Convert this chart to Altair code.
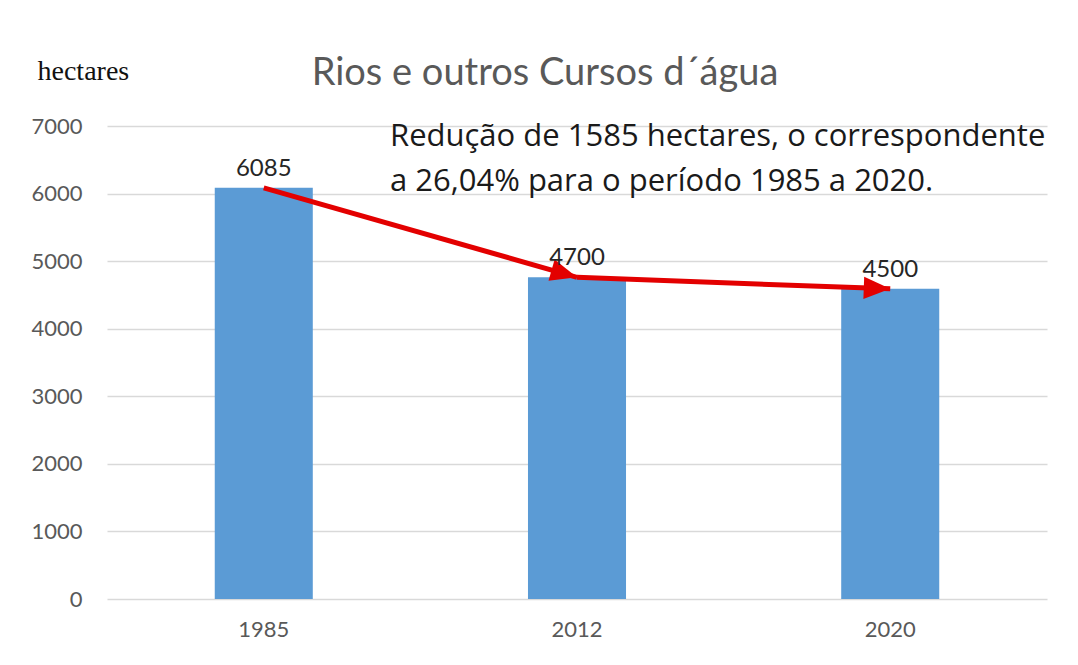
import math
import altair as alt
import pandas as pd

# ---- data ----
years = ["1985", "2012", "2020"]
bar_values = [6085, 4760, 4590]          # bar heights as drawn
label_texts = ["6085", "4700", "4500"]   # data labels as printed
y_ticks = [0, 1000, 2000, 3000, 4000, 5000, 6000, 7000]
title_text = "Rios e outros Cursos d´água"
y_title = "hectares"
note_lines = ["Redução de 1585 hectares, o correspondente",
              "a 26,04% para o período 1985 a 2020."]
arrow_from = ["1985", "2012"]
arrow_to = ["2012", "2020"]

# ---- layout ----
W, H = 940, 473
PI, PO = 0.687, 0.344
step = W / (len(years) - PI + 2 * PO)
ppu = H / 7000.0

bars = pd.DataFrame({"year": years, "value": bar_values, "label": label_texts})
val = dict(zip(years, bar_values))

line_rows, head_rows = [], []
for i, (a, b) in enumerate(zip(arrow_from, arrow_to)):
    line_rows.append({"arrow": i, "year": a, "value": val[a]})
    line_rows.append({"arrow": i, "year": b, "value": val[b]})
    dx = step * (years.index(b) - years.index(a))
    dy = (val[a] - val[b]) * ppu
    head_rows.append({"year": b, "value": val[b],
                      "angle": math.degrees(math.atan2(dy, dx)) % 360})
lines = pd.DataFrame(line_rows)
heads = pd.DataFrame(head_rows)
note = pd.DataFrame({"text": ["\n".join(note_lines)]})

xenc = alt.X("year:N", sort=years,
             scale=alt.Scale(paddingInner=PI, paddingOuter=PO),
             axis=alt.Axis(title=None, labelAngle=0, labelFontSize=22,
                           labelColor="#595959", labelFont="Lato",
                           labelPadding=20, ticks=False, domain=False,
                           grid=False))
yscale = alt.Scale(domain=[0, 7000], nice=False)

base = alt.Chart(bars)

bar_layer = base.mark_bar(color="#5b9bd5").encode(
    x=xenc,
    y=alt.Y("value:Q", scale=yscale,
            axis=alt.Axis(values=y_ticks, format="d", title=y_title, titleAngle=0,
                          titleFont="Liberation Serif", titleFontSize=28,
                          titleFontWeight="normal", titleColor="#111111",
                          titleX=-70, titleY=-47, titleAlign="left",
                          titleBaseline="alphabetic",
                          labelFontSize=22, labelColor="#595959",
                          labelFont="Lato", labelPadding=25,
                          ticks=False, domain=False,
                          gridColor="#d9d9d9", gridWidth=1.5)),
)

label_layer = base.mark_text(fontSize=24, font="Lato", color="#262626",
                             baseline="alphabetic", dy=-12).encode(
    x=alt.X("year:N", sort=years),
    y=alt.Y("value:Q", scale=yscale),
    text="label:N",
)

arrow_lines = alt.Chart(lines).mark_line(color="#e30000", strokeWidth=5).encode(
    x=alt.X("year:N", sort=years),
    y=alt.Y("value:Q", scale=yscale),
    detail="arrow:N",
)

arrow_heads = alt.Chart(heads).mark_point(
    shape="M0,0L-1,-0.42L-1,0.42Z", size=2800, filled=True,
    color="#e30000", opacity=1).encode(
    x=alt.X("year:N", sort=years),
    y=alt.Y("value:Q", scale=yscale),
    angle=alt.Angle("angle:Q", scale=None),
)

note_layer = alt.Chart(note).mark_text(
    align="left", baseline="alphabetic", fontSize=31, font="Open Sans",
    color="#1a1a1a", lineBreak="\n", lineHeight=45).encode(
    x=alt.value(283), y=alt.value(20), text="text:N")

chart = alt.layer(bar_layer, arrow_lines, arrow_heads, label_layer, note_layer).properties(
    width=W, height=H,
    title=alt.TitleParams(title_text, fontSize=38, font="Lato",
                          fontWeight="normal", color="#595959",
                          anchor="middle", dx=-32, offset=-36),
    autosize=alt.AutoSizeParams(type="none"),
    padding={"left": 99, "top": 118, "right": 20, "bottom": 50},
    background="white",
).configure_view(stroke=None)

chart.save("out.html", embed_options={"renderer": "svg", "actions": False})
